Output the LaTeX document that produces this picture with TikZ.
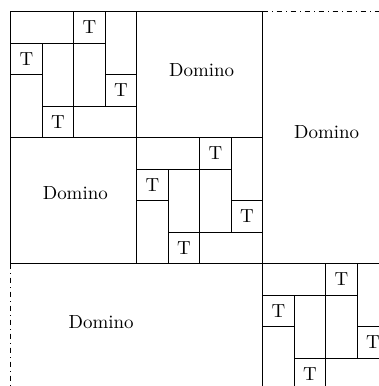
\documentclass[tikz,border=0pt]{standalone}
\newcommand\myTblock[3]{%
  \begin{scope}[shift={(#2,#3)}]
    \draw[tile] (0,0) rectangle (2,1);
    \draw[tile] (2,0) rectangle (3,1);
    \draw[tile] (3,0) rectangle (4,2);
    \draw[tile] (0,1) rectangle (1,2);
    \draw[tile] (1,1) rectangle (2,3);
    \draw[tile] (2,1) rectangle (3,3);
    \draw[tile] (3,2) rectangle (4,3);
    \draw[tile] (0,2) rectangle (1,4);
    \draw[tile] (1,3) rectangle (2,4);
    \draw[tile] (2,3) rectangle (4,4);
    \node[tlabel] (#1a) at (2.5,0.5) {T};
    \node[tlabel] (#1b) at (0.5,1.5) {T};
    \node[tlabel] (#1c) at (3.5,2.5) {T};
    \node[tlabel] (#1d) at (1.5,3.5) {T};
  \end{scope}}
\begin{document}
\begin{tikzpicture}[x=0.585cm,y=-0.585cm,line width=0.4pt,
  tile/.style={draw=black},
  tlabel/.style={inner sep=0pt},
  dlabel/.style={inner sep=0pt}]
\useasboundingbox (-0.34,-0.371) rectangle (11.692,11.883);
\clip (-0.34,-0.371) rectangle (11.692,11.883);
% outer dash-dotted boundary
\draw[dash dot] (8,0) -- (12,0);
\draw[dash dot] (0,8) -- (0,12);
% dominoes
\draw[tile] (4,0) rectangle (8,4);
\draw[tile] (0,4) rectangle (4,8);
\draw[tile] (8,0) -- (8,8) -- (12,8) -- (12,0);
\draw[tile] (0,8) -- (8,8) -- (8,12) -- (0,12);
\draw[tile] (0,0) rectangle (8,8);
% T blocks
\myTblock{p}{0}{0}
\myTblock{q}{4}{4}
\myTblock{r}{8}{8}
% labels
\node[dlabel] (d1) at (6.06,1.85) {Domino};
\node[dlabel] (d2) at (2.05,5.76) {Domino};
\node[dlabel] (d3) at (10.03,3.82) {Domino};
\node[dlabel] (d4) at (2.87,9.85) {Domino};
\end{tikzpicture}
\end{document}
